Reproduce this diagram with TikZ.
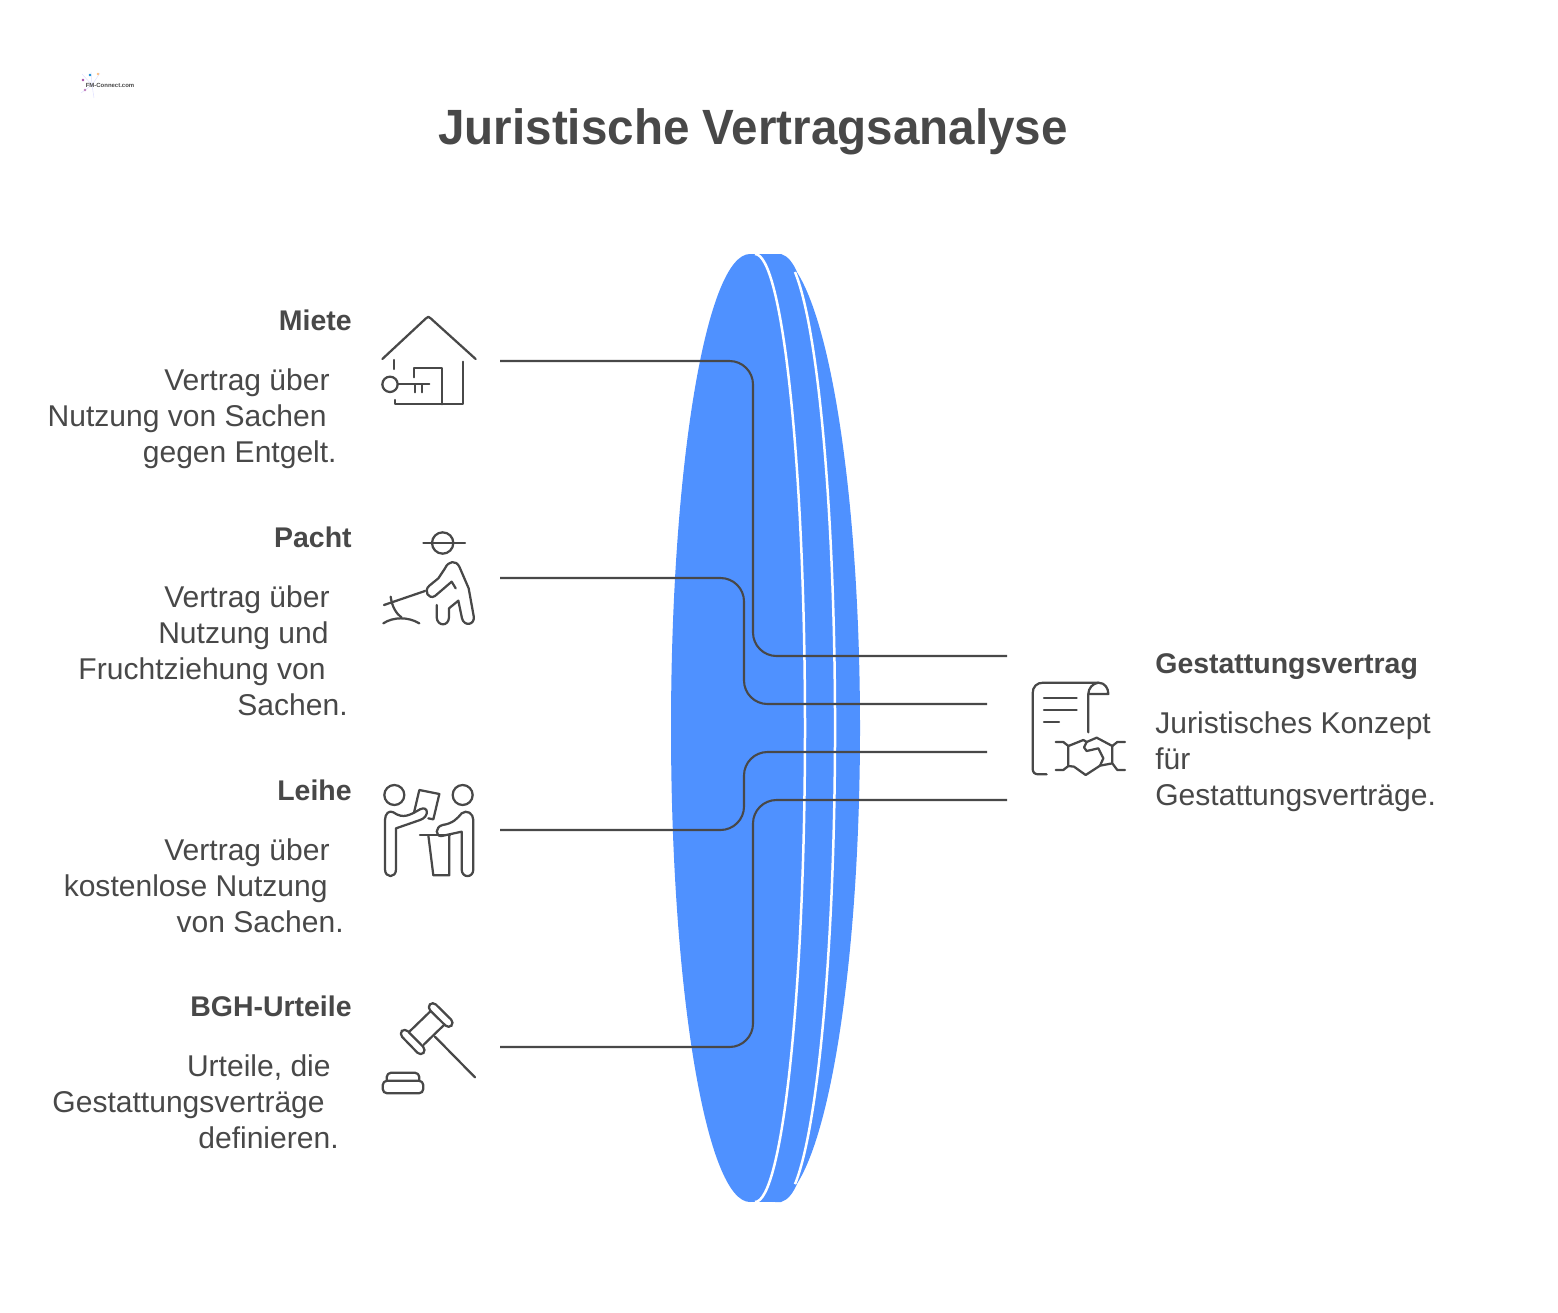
\documentclass[tikz,border=0pt]{standalone}
\usepackage{fontspec}
\setmainfont{Liberation Sans}
\newfontfamily\titlefont[FakeStretch=0.96]{Liberation Sans}
\usetikzlibrary{calc}
\definecolor{lensblue}{HTML}{4F91FF}
\definecolor{inkgray}{HTML}{484848}
\tikzset{
	headtxt/.style={font=\fontsize{16.2}{20}\selectfont\bfseries, text=inkgray, inner sep=0pt},
	bodytxt/.style={font=\fontsize{17.1}{20}\selectfont, text=inkgray, inner sep=0pt},
	wire/.style={draw=inkgray, line width=0.042cm, rounded corners=0.47cm},
	icon/.style={draw=inkgray, line width=0.045cm, line cap=round, line join=round},
	ray/.style={draw=blue!12, line width=0.01cm},
}
\begin{document}
\begin{tikzpicture}[x=0.02cm, y=-0.02cm]
\useasboundingbox (0,0) rectangle (1558,1312);

%========================
% Logo + title
%========================
\draw[ray] (92,85) -- (82,74);
\draw[ray] (92,85) -- (91,72);
\draw[ray] (92,85) -- (100,73);
\draw[ray] (92,85) -- (81,93);
\draw[ray] (92,85) -- (94,98);
\fill[violet!70] (83,80) circle (1.3);
\fill[cyan!70!blue] (90,75) circle (1.3);
\fill[orange!50] (98,74) circle (1.3);
\fill[violet!50] (85,90) circle (1.3);
\node[font=\fontsize{3.4}{4}\selectfont\bfseries, text=inkgray, inner sep=0pt] (logo) at (110,85) {FM-Connect.com};
\node[font=\fontsize{28.2}{32}\selectfont\titlefont\bfseries, text=inkgray, inner sep=0pt, anchor=base] (title) at (753,144) {Juristische Vertragsanalyse};

%========================
% Lens
%========================
\fill[lensblue] (773,728) ellipse [x radius=87, y radius=474];
\fill[lensblue] (750,728) ellipse [x radius=79, y radius=474];
\fill[lensblue] (750,254) rectangle (775,1202);
\fill[lensblue] (775,254) -- (781,254) .. controls (788,256) and (793,263) .. (797,272) -- (775,272) -- cycle;
\fill[lensblue] (775,1202) -- (781,1202) .. controls (788,1200) and (793,1193) .. (797,1184) -- (775,1184) -- cycle;
\draw[white, line width=0.05cm] (755,254) arc [start angle=-90, end angle=90, x radius=50, y radius=474];
\draw[white, line width=0.05cm] (795,272) arc [start angle=-74.2, end angle=74.2, x radius=55, y radius=474];

%========================
% Left: texts
%========================
\node[headtxt, anchor=base east] (miete) at (352,330) {Miete};
\node[bodytxt, anchor=base east] (mieteA) at (330,390) {Vertrag über};
\node[bodytxt, anchor=base east] (mieteB) at (327,426) {Nutzung von Sachen};
\node[bodytxt, anchor=base east] (mieteC) at (337,462) {gegen Entgelt.};

\node[headtxt, anchor=base east] (pacht) at (352,547) {Pacht};
\node[bodytxt, anchor=base east] (pachtA) at (330,607) {Vertrag über};
\node[bodytxt, anchor=base east] (pachtB) at (329,643) {Nutzung und};
\node[bodytxt, anchor=base east] (pachtC) at (326,679) {Fruchtziehung von};
\node[bodytxt, anchor=base east] (pachtD) at (348,715) {Sachen.};

\node[headtxt, anchor=base east] (leihe) at (352,800) {Leihe};
\node[bodytxt, anchor=base east] (leiheA) at (330,860) {Vertrag über};
\node[bodytxt, anchor=base east] (leiheB) at (328,896) {kostenlose Nutzung};
\node[bodytxt, anchor=base east] (leiheC) at (344,932) {von Sachen.};

\node[headtxt, anchor=base east] (bgh) at (352,1016) {BGH-Urteile};
\node[bodytxt, anchor=base east] (bghA) at (331,1076) {Urteile, die};
\node[bodytxt, anchor=base east] (bghB) at (325,1112) {Gestattungsverträge};
\node[bodytxt, anchor=base east] (bghC) at (339,1148) {definieren.};

%========================
% Right: texts
%========================
\node[headtxt, anchor=base west] (gest) at (1155,673) {Gestattungsvertrag};
\node[bodytxt, anchor=base west] (gestA) at (1155,733) {Juristisches Konzept};
\node[bodytxt, anchor=base west] (gestB) at (1155,769) {für};
\node[bodytxt, anchor=base west] (gestC) at (1155,805) {Gestattungsverträge.};

%========================
% Connectors
%========================
\coordinate (mieteout) at (500,361);
\coordinate (pachtout) at (500,578);
\coordinate (leiheout) at (500,830);
\coordinate (bghout) at (500,1047);
\coordinate (endA) at (1007,656);
\coordinate (endB) at (987,704);
\coordinate (endC) at (987,752);
\coordinate (endD) at (1007,800);
\coordinate (busO) at (753,728);
\coordinate (busI) at (744,728);
\draw[wire] (mieteout) -- (mieteout -| busO) -- (endA -| busO) -- (endA);
\draw[wire] (pachtout) -- (pachtout -| busI) -- (endB -| busI) -- (endB);
\draw[wire] (leiheout) -- (leiheout -| busI) -- (endC -| busI) -- (endC);
\draw[wire] (bghout) -- (bghout -| busO) -- (endD -| busO) -- (endD);

%========================
% Icons (zoomed grid, 3 units = 1 px)
%========================
% house + key
\begin{scope}[shift={(370,300)}, scale=1/3]
	\draw[icon] (37,177) -- (168,55) .. controls (175,49) .. (182,55) -- (317,177);
	\draw[icon] (278,185) -- (278,313) -- (75,313) -- (75,300);
	\draw[icon] (73,180) -- (73,207);
	\draw[icon] (133,232) -- (133,205) -- (217,205) -- (217,313);
	\draw[icon] (60,253) circle (23);
	\draw[icon] (84,253) -- (178,253);
	\draw[icon] (135,253) -- (135,277);
	\draw[icon] (157,253) -- (157,277);
\end{scope}

% farmer
\begin{scope}[shift={(370,520)}, scale=1/3]
	\draw[icon] (218,69) circle (32);
	\draw[icon] (160,68) -- (285,68);
	\draw[icon] (200,255) -- (200,292) .. controls (202,320) and (236,320) .. (237,292) -- (237,265) -- (265,242)
		-- (276,295) .. controls (282,320) and (316,316) .. (311,288) -- (296,205) -- (268,140)
		.. controls (258,120) and (235,122) .. (225,145) -- (205,175) -- (178,197)
		.. controls (160,212) and (175,240) .. (195,228) -- (245,185) -- (257,205);
	\draw[icon] (42,255) -- (165,213);
	\draw[icon] (62,230) .. controls (66,260) and (78,280) .. (95,293);
	\draw[icon] (40,310) .. controls (70,290) and (115,290) .. (148,310);
\end{scope}

% two persons + paper
\begin{scope}[shift={(370,770)}, scale=1/3]
	\draw[icon] (73,75) circle (30);
	\draw[icon] (278,75) circle (30);
	\draw[icon] (132,128) -- (148,60) -- (208,72) -- (190,148) -- (175,145);
	\draw[icon] (45,150) -- (45,298) .. controls (45,325) and (78,325) .. (78,298) -- (78,175) -- (150,150)
		.. controls (180,140) and (175,105) .. (150,118) .. controls (120,135) and (100,148) .. (70,127)
		.. controls (58,120) and (45,130) .. (45,150);
	\draw[icon] (310,150) -- (310,298) .. controls (310,325) and (275,325) .. (275,298) -- (275,185) -- (215,198)
		.. controls (195,200) and (195,170) .. (218,165) .. controls (250,160) and (262,145) .. (275,130)
		.. controls (290,118) and (310,130) .. (310,150);
	\draw[icon] (150,196) -- (240,196);
	\draw[icon] (175,196) -- (190,316) -- (238,316) -- (238,196);
\end{scope}

% gavel
\begin{scope}[shift={(370,990)}, scale=1/3]
	\draw[icon, rounded corners=0.09cm] (171,52) -- (188,34) -- (253,98) -- (236,116) -- cycle;
	\draw[icon, rounded corners=0.09cm] (87,131) -- (104,114) -- (169,180) -- (152,198) -- cycle;
	\draw[icon] (180,65) -- (118,125);
	\draw[icon] (222,105) -- (160,165);
	\draw[icon] (195,140) -- (315,262);
	\draw[icon, rounded corners=0.09cm] (38,272) rectangle (160,310);
	\draw[icon, rounded corners=0.09cm] (50,272) -- (50,248) -- (148,248) -- (148,272);
\end{scope}

% contract + handshake
\begin{scope}[shift={(1020,670)}, scale=1/3]
	\draw[icon] (80,313) -- (55,313) .. controls (44,313) and (38,307) .. (38,296) -- (38,70)
		.. controls (38,50) and (50,38) .. (70,38) -- (235,38) .. controls (255,38) and (265,55) .. (265,72) -- (205,72);
	\draw[icon] (235,38) .. controls (218,40) and (205,55) .. (205,72) -- (205,187);
	\draw[icon] (72,85) -- (170,85);
	\draw[icon] (72,120) -- (170,120);
	\draw[icon] (72,157) -- (117,157);
	\draw[icon] (107,216) -- (130,216) -- (145,228) -- (145,288) -- (130,300) -- (107,300);
	\draw[icon] (315,216) -- (292,216) -- (277,228) -- (277,280) -- (292,300) -- (315,300);
	\draw[icon] (145,228) -- (190,210) -- (200,216);
	\draw[icon] (200,216) -- (230,203) -- (277,228);
	\draw[icon] (200,216) -- (192,232) -- (200,243) -- (235,235) -- (250,265) -- (240,287);
	\draw[icon] (145,288) -- (162,290) -- (197,315) -- (240,287) -- (277,280);
\end{scope}

\end{tikzpicture}
\end{document}
